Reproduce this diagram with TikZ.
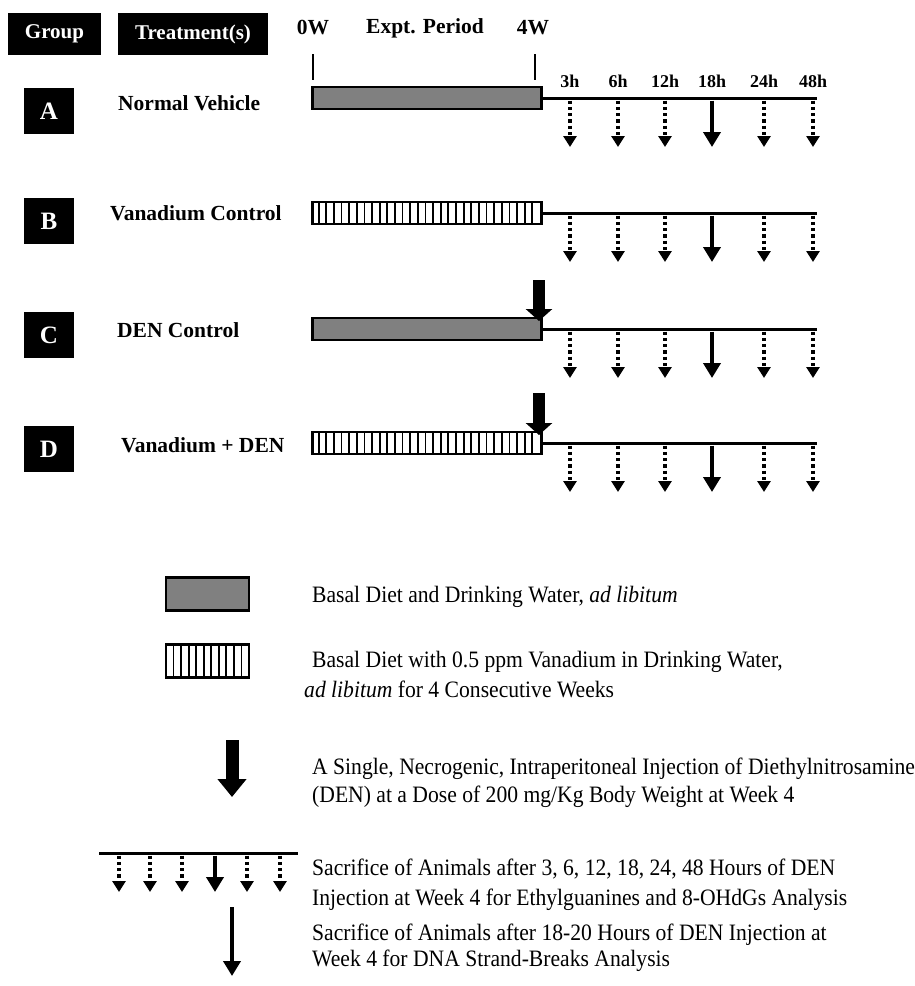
\documentclass[tikz,border=0pt]{standalone}
\usepackage{fontspec}
\setmainfont{Liberation Serif}
\newfontfamily\legfont[FakeStretch=0.92]{Liberation Serif}
\usetikzlibrary{arrows.meta}
\definecolor{barGray}{HTML}{808080}
\begin{document}
\begin{tikzpicture}[x=1pt,y=-1pt,
  hdr/.style={fill=black,text=white,font=\fontsize{21}{25}\selectfont\bfseries,inner sep=0pt,minimum height=42pt},
  grp/.style={fill=black,text=white,minimum width=50pt,minimum height=46pt,inner sep=0pt,font=\fontsize{25}{30}\selectfont\bfseries},
  lbl/.style={font=\fontsize{21.5}{26}\selectfont\bfseries,inner sep=0pt,anchor=west},
  hour/.style={font=\fontsize{18}{22}\selectfont\bfseries,inner sep=0pt},
  leg/.style={font=\legfont\fontsize{23.5}{28}\selectfont,inner sep=0pt,anchor=base west},
  graybar/.style={draw=black,line width=2.5pt,fill=barGray,inner sep=0pt},
  stripebar/.style={draw=black,line width=2.5pt,fill=white,inner sep=0pt},
  stripe/.style={line width=1.8pt},
  tline/.style={line width=3pt},
  tick/.style={line width=1.5pt},
  dotarrow/.style={line width=3.3pt,dash pattern=on 3.3pt off 3pt,-{Triangle[width=13pt,length=11pt]}},
  solarrow/.style={line width=4pt,-{Triangle[width=17pt,length=15pt]}},
  denarrow/.style={line width=12pt,-{Triangle[width=26pt,length=12pt]}},
  bigarrow/.style={line width=13pt,-{Triangle[width=28pt,length=18pt]}},
]
\useasboundingbox (0,0) rectangle (915,986);

% header
\node[hdr,minimum width=93pt] (hgroup) at (54.5,34) {Group};
\node[hdr,minimum width=150pt] (htreat) at (193,34) {Treatment(s)};
\node[lbl,anchor=center] (w0) at (313,28) {0W};
\node[lbl,anchor=center] (period) at (425,28) {Expt. Period};
\node[lbl,anchor=center] (w4) at (533,28) {4W};
\coordinate (t0a) at (313,54); \coordinate (t0b) at (313,80);
\coordinate (t4a) at (535,54); \coordinate (t4b) at (535,80);
\draw[tick] (t0a) -- (t0b);
\draw[tick] (t4a) -- (t4b);

% hour labels
\foreach \x/\h in {570/3h,618/6h,665/12h,712/18h,764/24h,813/48h}
  \node[hour] (hr\h) at (\x,81) {\h};

% group boxes and labels
\node[grp] (gA) at (49,111) {A};
\node[grp] (gB) at (49,221) {B};
\node[grp] (gC) at (49,335) {C};
\node[grp] (gD) at (49,449) {D};
\node[lbl] (lA) at (118,103) {Normal Vehicle};
\node[lbl] (lB) at (110,213) {Vanadium Control};
\node[lbl] (lC) at (117,330) {DEN Control};
\node[lbl] (lD) at (121,445) {Vanadium + DEN};

% bars
\node[graybar,minimum width=229pt,minimum height=22pt,anchor=west] (barA) at (311,98) {};
\node[stripebar,minimum width=229pt,minimum height=22pt,anchor=west] (barB) at (311,213) {};
\node[graybar,minimum width=229pt,minimum height=22pt,anchor=west] (barC) at (311,329) {};
\node[stripebar,minimum width=229pt,minimum height=22pt,anchor=west] (barD) at (311,443) {};
\foreach \yy in {213,443}
  \foreach \k in {1,...,29}
    \draw[stripe] ({311+\k*7.633},{\yy-11}) -- ({311+\k*7.633},{\yy+11});

% timelines and sampling arrows
\foreach \r/\y in {A/98,B/213,C/329,D/443}{
  \coordinate (end\r) at (817,\y);
  \draw[tline] (bar\r.east) -- (end\r);
  \foreach \x/\s in {570/dotarrow,618/dotarrow,665/dotarrow,712/solarrow,764/dotarrow,813/dotarrow}{
    \coordinate (\r s\x) at (\x,{\y+2.5});
    \coordinate (\r e\x) at (\x,{\y+49});
    \draw[\s] (\r s\x) -- (\r e\x);
  }
}

% DEN injection arrows
\coordinate (denC1) at (539,280); \coordinate (denC2) at (539,321);
\coordinate (denD1) at (539,393); \coordinate (denD2) at (539,435);
\draw[denarrow] (denC1) -- (denC2);
\draw[denarrow] (denD1) -- (denD2);

% legend
\node[graybar,minimum width=83pt,minimum height=33pt] (lgGray) at (207.5,594) {};
\node[leg] (tx1) at (312,602) {Basal Diet and Drinking Water, \textit{ad libitum}};

\node[stripebar,minimum width=83pt,minimum height=33pt] (lgStripe) at (207.5,661) {};
\foreach \k in {1,...,10}
  \draw[stripe] ({166+\k*7.545},644.5) -- ({166+\k*7.545},677.5);
\node[leg] (tx2a) at (312,667) {Basal Diet with 0.5 ppm Vanadium in Drinking Water,};
\node[leg] (tx2b) at (304,697) {\textit{ad libitum} for 4 Consecutive Weeks};

\coordinate (lgDen1) at (232,740); \coordinate (lgDen2) at (232,797);
\draw[bigarrow] (lgDen1) -- (lgDen2);
\node[leg] (tx3a) at (312,774) {A Single, Necrogenic, Intraperitoneal Injection of Diethylnitrosamine};
\node[leg] (tx3b) at (312,802) {(DEN) at a Dose of 200 mg/Kg Body Weight at Week 4};

\coordinate (lgL1) at (99,853); \coordinate (lgL2) at (298,853);
\draw[tline] (lgL1) -- (lgL2);
\foreach \x/\s in {119/dotarrow,150/dotarrow,182/dotarrow,215/solarrow,247/dotarrow,280/dotarrow}{
  \coordinate (lgs\x) at (\x,855.5);
  \coordinate (lge\x) at (\x,892);
  \draw[\s] (lgs\x) -- (lge\x);
}
\node[leg] (tx4a) at (312,875) {Sacrifice of Animals after 3, 6, 12, 18, 24, 48 Hours of DEN};
\node[leg] (tx4b) at (312,905) {Injection at Week 4 for Ethylguanines and 8-OHdGs Analysis};

\coordinate (lgS1) at (232,907); \coordinate (lgS2) at (232,976);
\draw[solarrow] (lgS1) -- (lgS2);
\node[leg] (tx5a) at (312,940) {Sacrifice of Animals after 18-20 Hours of DEN Injection at};
\node[leg] (tx5b) at (312,966) {Week 4 for DNA Strand-Breaks Analysis};
\end{tikzpicture}
\end{document}
